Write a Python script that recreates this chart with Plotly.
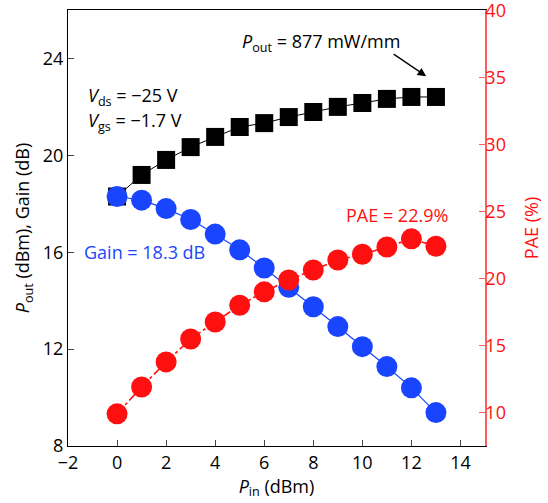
import plotly.graph_objects as go

pin = [0, 1, 2, 3, 4, 5, 6, 7, 8, 9, 10, 11, 12, 13]
pout = [18.3, 19.19, 19.81, 20.34, 20.76, 21.17, 21.33, 21.58, 21.79, 22.0, 22.16, 22.33, 22.41, 22.41]
gain = [18.3, 18.15, 17.8, 17.35, 16.75, 16.1, 15.35, 14.55, 13.75, 12.93, 12.1, 11.28, 10.4, 9.38]
pae = [9.9, 11.9, 13.77, 15.48, 16.75, 18.0, 19.0, 19.88, 20.63, 21.37, 21.8, 22.34, 22.95, 22.4]

BLUE = "#1a45ff"
RED = "#ff1010"
FONT = "Open Sans"
FS = 18

fig = go.Figure()
fig.add_trace(go.Scatter(x=pin, y=pout, mode="lines+markers",
                         line=dict(color="black", width=1),
                         marker=dict(symbol="square", size=18, color="black"),
                         showlegend=False))
fig.add_trace(go.Scatter(x=pin, y=gain, mode="lines+markers",
                         line=dict(color=BLUE, width=1.2),
                         marker=dict(symbol="circle", size=21, color=BLUE),
                         showlegend=False))
fig.add_trace(go.Scatter(x=pin, y=pae, mode="lines+markers", yaxis="y2",
                         line=dict(color=RED, width=1.6, dash="dashdot"),
                         marker=dict(symbol="circle", size=21, color=RED),
                         showlegend=False))

tickfont = dict(family=FONT, size=FS, color="black")
fig.update_layout(
    width=548, height=503,
    margin=dict(l=68, r=63, t=10, b=57, autoexpand=False),
    paper_bgcolor="white", plot_bgcolor="white",
    font=dict(family=FONT, size=FS, color="black"),
    xaxis=dict(range=[-2, 15], dtick=2, tick0=0, ticks="inside", ticklen=6,
               showline=True, linecolor="black", linewidth=1.2, mirror=True,
               showgrid=False, zeroline=False, tickfont=tickfont, automargin=False,
               title=dict(text="<i>P</i><sub>in</sub> (dBm)", font=dict(family=FONT, size=FS), standoff=2)),
    yaxis=dict(range=[8, 26], tickvals=[8, 12, 16, 20, 24], ticks="inside", ticklen=6,
               showline=True, linecolor="black", linewidth=1.2, automargin=False,
               showgrid=False, zeroline=False, tickfont=tickfont, ticklabeloverflow="allow",
               title=dict(text="<i>P</i><sub>out</sub> (dBm), Gain (dB)", font=dict(family=FONT, size=FS), standoff=8)),
    yaxis2=dict(range=[7.5, 40.02], tickvals=[10, 15, 20, 25, 30, 35, 40], overlaying="y", side="right",
                ticks="inside", ticklen=6, showline=True, linecolor="rgba(255,40,40,0.75)", linewidth=1.5,
                tickcolor="rgba(255,40,40,0.75)", automargin=False, ticklabeloverflow="allow",
                ticklabelstandoff=-5,
                showgrid=False, zeroline=False, tickfont=dict(family=FONT, size=FS, color=RED),
                title=dict(text="PAE (%)", font=dict(family=FONT, size=FS, color=RED), standoff=20)),
)

ann_font = dict(family=FONT, size=FS, color="black")
fig.add_annotation(x=8.3, y=24.64, text="<i>P</i><sub>out</sub> = 877 mW/mm", showarrow=False,
                   font=ann_font, xanchor="center", yanchor="middle")
fig.add_annotation(x=12.6, y=23.27, ax=-34, ay=-23, text="", showarrow=True,
                   arrowhead=2, arrowsize=1.3, arrowwidth=1.3, arrowcolor="black")
fig.add_annotation(x=-1.27, y=22.41, text="<i>V</i><sub>ds</sub> = −25 V", showarrow=False,
                   font=ann_font, xanchor="left", yanchor="middle")
fig.add_annotation(x=-1.27, y=21.38, text="<i>V</i><sub>gs</sub> = −1.7 V", showarrow=False,
                   font=ann_font, xanchor="left", yanchor="middle")
fig.add_annotation(x=-1.43, y=16.0, text="Gain = 18.3 dB", showarrow=False,
                   font=dict(family=FONT, size=FS, color=BLUE), xanchor="left", yanchor="middle")
fig.add_annotation(x=9.27, y=17.54, text="PAE = 22.9%", showarrow=False,
                   font=dict(family=FONT, size=FS, color=RED), xanchor="left", yanchor="middle")

fig.write_html("out.html", config={"displayModeBar": False},
               post_script="document.body.style.margin='0';document.body.style.padding='0';")
